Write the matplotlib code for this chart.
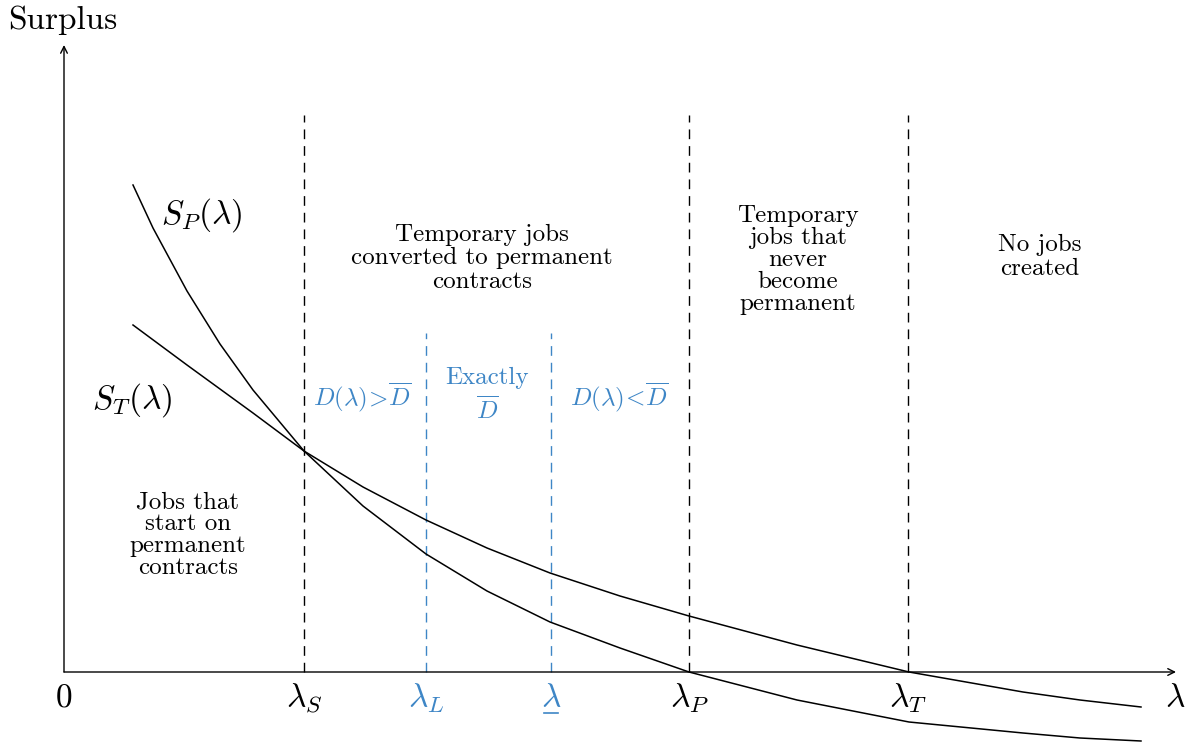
import matplotlib.pyplot as plt
import numpy as np

plt.rcParams['font.family'] = 'serif'
plt.rcParams['font.serif'] = ['cmr10']
plt.rcParams['mathtext.fontset'] = 'cm'
plt.rcParams['axes.unicode_minus'] = False

# Кривые излишка
sp_x = [0.69, 0.89, 1.23, 1.56, 1.89, 2.40, 2.99, 3.62, 4.23, 4.86, 5.56, 6.25, 7.33, 8.45, 9.59, 10.16, 10.77]
sp_y = [4.87, 4.44, 3.81, 3.28, 2.82, 2.21, 1.66, 1.18, 0.81, 0.50, 0.24, 0.0, -0.28, -0.50, -0.61, -0.66, -0.69]
st_x = [0.69, 1.23, 1.56, 1.89, 2.40, 2.99, 3.62, 4.23, 4.86, 5.56, 6.25, 7.33, 8.45, 9.59, 10.16, 10.77]
st_y = [3.47, 3.07, 2.83, 2.59, 2.21, 1.85, 1.52, 1.24, 0.99, 0.76, 0.56, 0.27, 0.0, -0.20, -0.28, -0.35]

# Пороговые значения лямбды
lam_black = [2.40, 6.25, 8.44]
lam_black_labels = [r'$\lambda_S$', r'$\lambda_P$', r'$\lambda_T$']
lam_blue = [3.62, 4.87]
lam_blue_labels = [r'$\lambda_L$', r'$\lambda$']

black_top = 5.57
blue_top = 3.39
blue = '#3e86c6'

fig = plt.figure(figsize=(11.93, 7.42), dpi=100)
ax = fig.add_axes([0, 0, 1, 1])
ax.set_xlim(-0.64, 11.29)
ax.set_ylim(-0.70, 6.72)
ax.axis('off')

# Оси
ax.annotate('', xy=(11.12, 0), xytext=(0, 0),
            arrowprops=dict(arrowstyle='->', lw=1.0, color='black', shrinkA=0, shrinkB=0, mutation_scale=12))
ax.annotate('', xy=(0, 6.27), xytext=(0, 0),
            arrowprops=dict(arrowstyle='->', lw=1.0, color='black', shrinkA=0, shrinkB=0, mutation_scale=12))

# Вертикальные пунктиры
for v in lam_black:
    ax.plot([v, v], [0, black_top], color='black', lw=1.0, dashes=(7, 5))
for v in lam_blue:
    ax.plot([v, v], [0, blue_top], color=blue, lw=1.0, dashes=(7, 5))

ax.plot(sp_x, sp_y, color='black', lw=1.1, solid_joinstyle='round')
ax.plot(st_x, st_y, color='black', lw=1.1, solid_joinstyle='round')

big = 24
# Подписи на оси
ax.text(-0.01, 6.52, 'Surplus', fontsize=big, ha='center', va='center')
ax.text(0, -0.35, '0', fontsize=big, ha='center', va='baseline')
ax.text(11.11, -0.35, r'$\lambda$', fontsize=big, ha='center', va='baseline')
for v, lab in zip(lam_black, lam_black_labels):
    ax.text(v, -0.35, lab, fontsize=big, ha='center', va='baseline')
for v, lab in zip(lam_blue, lam_blue_labels):
    ax.text(v, -0.35, lab, fontsize=big, ha='center', va='baseline', color=blue)
# подчёркивание для нижней лямбды
ax.plot([lam_blue[1] - 0.07, lam_blue[1] + 0.07], [-0.405, -0.405], color=blue, lw=1.2)

ax.text(1.38, 4.48, r'$S_P(\lambda)$', fontsize=big, ha='center', va='baseline')
ax.text(0.68, 2.63, r'$S_T(\lambda)$', fontsize=big, ha='center', va='baseline')

mid = 18
ax.text(4.18, 4.14, 'Temporary jobs\nconverted to permanent\ncontracts', fontsize=mid,
        ha='center', va='center', multialignment='center', linespacing=1.08)
ax.text(7.34, 4.12, 'Temporary\njobs that\nnever\nbecome\npermanent', fontsize=mid,
        ha='center', va='center', multialignment='center', linespacing=0.98)
ax.text(9.76, 4.15, 'No jobs\ncreated', fontsize=mid,
        ha='center', va='center', multialignment='center', linespacing=1.08)
ax.text(1.24, 1.37, 'Jobs that\nstart on\npermanent\ncontracts', fontsize=mid,
        ha='center', va='center', multialignment='center', linespacing=0.98)

ax.text(2.98, 2.75, r'$D(\lambda)\!>\!\overline{D}$', fontsize=mid, ha='center', va='center', color=blue)
ax.text(4.23, 2.77, 'Exactly\n' + r'$\overline{D}$', fontsize=mid, ha='center', va='center',
        multialignment='center', linespacing=1.3, color=blue)
ax.text(5.55, 2.75, r'$D(\lambda)\!<\!\overline{D}$', fontsize=mid, ha='center', va='center', color=blue)

fig.savefig('out.png', dpi=100)
